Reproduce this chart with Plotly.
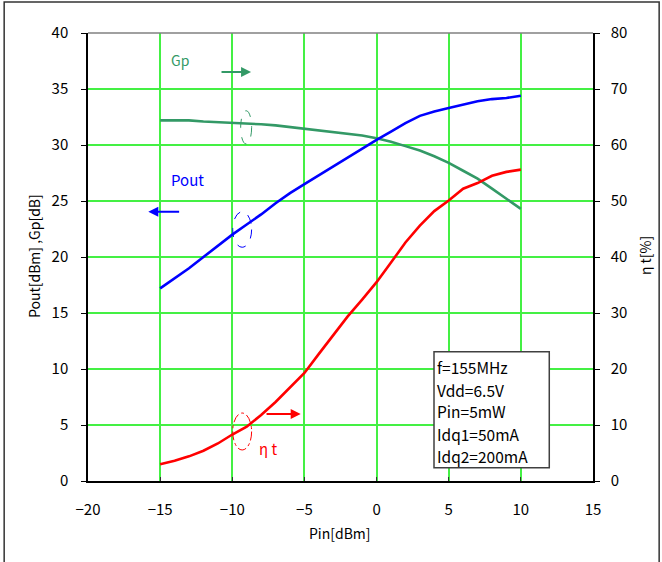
import plotly.graph_objects as go

# Input power sweep [dBm]
pin_dbm = list(range(-15, 11))

# Output power [dBm]
pout_dbm = [17.2, 18.1, 19.0, 20.0, 21.0, 22.0, 22.9, 23.8, 24.8, 25.7, 26.5, 27.3, 28.05,
            28.85, 29.65, 30.45, 31.2, 31.95, 32.6, 33.0, 33.3, 33.6, 33.9, 34.1, 34.2, 34.4]

# Power gain [dB]
gp_db = [32.2, 32.2, 32.2, 32.1, 32.05, 32.0, 31.9, 31.85, 31.75, 31.6, 31.46, 31.35, 31.2,
         31.05, 30.85, 30.6, 30.3, 29.9, 29.5, 29.0, 28.4, 27.7, 27.0, 26.1, 25.2, 24.3]

# Total efficiency [%]
eta_pct = [3.0, 3.6, 4.4, 5.4, 6.7, 8.3, 9.7, 11.8, 14.1, 16.7, 19.3, 22.7, 26.0,
           29.4, 32.4, 35.5, 39.0, 42.6, 45.6, 48.2, 50.1, 52.2, 53.2, 54.5, 55.2, 55.6]

# Test conditions
conditions = ["f=155MHz", "Vdd=6.5V", "Pin=5mW", "Idq1=50mA", "Idq2=200mA"]

FONT = "Noto Sans CJK JP"
GRID = "#44F044"
C_POUT = "#0000FF"
C_GP = "#339966"
C_ETA = "#FF0000"

fig = go.Figure()
fig.add_trace(go.Scatter(x=pin_dbm, y=gp_db, mode="lines",
                         line=dict(color=C_GP, width=2.6), name="Gp"))
fig.add_trace(go.Scatter(x=pin_dbm, y=pout_dbm, mode="lines",
                         line=dict(color=C_POUT, width=2.6), name="Pout"))
fig.add_trace(go.Scatter(x=pin_dbm, y=eta_pct, mode="lines", yaxis="y2",
                         line=dict(color=C_ETA, width=2.6), name="ηt"))

tickfont = dict(family=FONT, size=15, color="#000000")

fig.update_layout(
    width=662, height=562,
    margin=dict(l=88, r=69, t=33, b=81),
    paper_bgcolor="white", plot_bgcolor="white",
    showlegend=False,
    font=dict(family=FONT, color="#000000"),
    xaxis=dict(range=[-20, 15], dtick=5, tick0=-20, showgrid=True, gridcolor=GRID,
               gridwidth=1.5, zeroline=False, showline=True, linecolor="#000000",
               linewidth=1.5, ticks="inside", ticklen=4, tickcolor="#333333",
               tickfont=tickfont, ticklabelstandoff=14),
    yaxis=dict(range=[0, 40], dtick=5, showgrid=True, gridcolor=GRID, gridwidth=1.5,
               zeroline=False, showline=True, linecolor="#000000", linewidth=1.5,
               ticks="outside", ticklen=5, tickcolor="#000000", tickfont=tickfont,
               ticklabelstandoff=10),
    yaxis2=dict(range=[0, 80], dtick=10, overlaying="y", side="right", showgrid=False,
                zeroline=False, showline=True, linecolor="#000000", linewidth=1.5,
                ticks="outside", ticklen=5, tickcolor="#000000", tickfont=tickfont,
                ticklabelstandoff=8),
)

shapes = [
    # top edge of the plot area
    dict(type="line", xref="paper", yref="paper", x0=0, x1=1, y0=1, y1=1,
         line=dict(color="#808080", width=1.5)),
    # outer chart frame
    dict(type="rect", xref="paper", yref="paper", x0=-0.166, x1=1.131, y0=-0.3, y1=1.069,
         line=dict(color="#333333", width=1.5), layer="below"),
    # info box
    dict(type="rect", xref="x", yref="y", x0=3.98, x1=11.97, y0=1.19, y1=11.54,
         line=dict(color="#404040", width=1.5), fillcolor="white"),
    # series markers (ellipses)
    dict(type="circle", xref="x", yref="y", x0=-9.42, x1=-8.66, y0=30.09, y1=33.06,
         line=dict(color=C_GP, width=1, dash="dash")),
    dict(type="circle", xref="x", yref="y", x0=-9.97, x1=-8.66, y0=20.87, y1=24.04,
         line=dict(color=C_POUT, width=1, dash="dash")),
    dict(type="circle", xref="x", yref="y", x0=-9.97, x1=-8.66, y0=2.77, y1=6.07,
         line=dict(color=C_ETA, width=1, dash="dashdot")),
]
fig.update_layout(shapes=shapes)

ann = []
# axis titles
ann.append(dict(text="Pin[dBm]", xref="paper", yref="paper", x=(340 - 88) / 505,
                y=(481 - 533) / 448, xanchor="center", yanchor="middle",
                showarrow=False, font=dict(size=14)))
ann.append(dict(text="Pout[dBm] ,Gp[dB]", xref="paper", yref="paper", x=(34 - 88) / 505,
                y=(481 - 256) / 448, xanchor="center", yanchor="middle",
                textangle=-90, showarrow=False, font=dict(size=14)))
ann.append(dict(text="η t[%]", xref="paper", yref="paper", x=(645 - 88) / 505,
                y=(481 - 256) / 448, xanchor="center", yanchor="middle",
                textangle=-90, showarrow=False, font=dict(size=14)))

# series labels
ann.append(dict(text="Gp", x=-13.62, y=37.6, xref="x", yref="y", showarrow=False,
                font=dict(size=14, color=C_GP)))
ann.append(dict(text="Pout", x=-13.1, y=26.9, xref="x", yref="y", showarrow=False,
                font=dict(size=15, color=C_POUT)))
ann.append(dict(text="η t", x=-7.53, y=2.86, xref="x", yref="y", showarrow=False,
                font=dict(size=15, color=C_ETA)))

# axis-pointer arrows
for (x0, x1, yv, col) in [(-10.85, -8.7, 36.52, C_GP),
                          (-13.58, -15.82, 24.04, C_POUT),
                          (-7.73, -5.26, 5.98, C_ETA)]:
    ann.append(dict(x=x1, y=yv, ax=x0, ay=yv, xref="x", yref="y", axref="x", ayref="y",
                    text="", showarrow=True, arrowhead=2, arrowsize=1, arrowwidth=2,
                    arrowcolor=col))

# condition lines
line_y = [10.2, 8.12, 6.25, 4.17, 2.23]
for txt, yv in zip(conditions, line_y):
    ann.append(dict(text=txt, x=4.12, y=yv, xref="x", yref="y", xanchor="left",
                    showarrow=False, borderpad=0,
                    font=dict(size=15.5, color="#000000")))

fig.update_layout(annotations=ann)

fig.write_html("out.html")
